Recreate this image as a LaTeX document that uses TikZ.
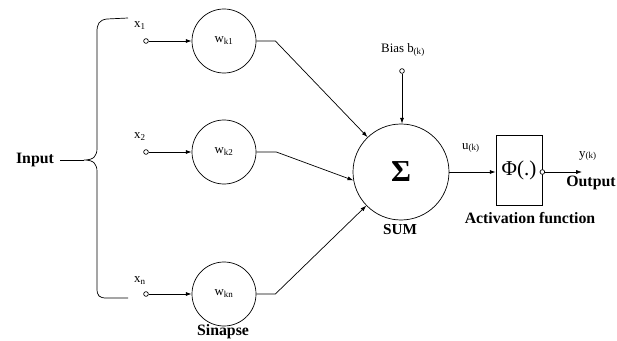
\documentclass[tikz,border=0pt]{standalone}
\usepackage{fontspec}
\setmainfont{Liberation Serif}[BoldFont={Liberation Serif Bold}]
\usetikzlibrary{arrows.meta}

\tikzset{
  weight/.style={draw, circle, minimum size=1.92cm, inner sep=0pt, font=\fontsize{11}{13}\selectfont},
  port/.style={draw, circle, minimum size=4pt, inner sep=0pt, fill=white},
  lbl/.style={font=\fontsize{11}{13}\selectfont, inner sep=1pt},
  caption/.style={font=\bfseries\fontsize{13.5}{16}\selectfont, inner sep=1pt},
}

\begin{document}
\begin{tikzpicture}[x=0.03cm, y=-0.03cm, line width=0.6pt, >={Latex[length=5pt,width=3.5pt]}]
            \useasboundingbox (0,0) rectangle (617,341);

            % Draw the inputs and the brace
            \node[caption] (input) at (35,160) {Input};
            \coordinate (tip) at (84,160);
            \draw[semithick] (128,18) -- (107,19) .. controls (99,20) and (97,24) .. (97,32) -- (97,148)
                .. controls (97,156) and (94,160) .. (tip) .. controls (94,160) and (97,164) .. (97,172)
                -- (97,288) .. controls (97,296) and (99,298) .. (107,298) -- (128,298);
            \draw[semithick] ([xshift=4pt]input.east) -- (tip);

            \node[port] (x1) at (146,41) {};
            \node[port] (x2) at (146,152) {};
            \node[port] (xn) at (146,294) {};
            \node[lbl] (lx1) at (140,26) {x\textsubscript{1}};
            \node[lbl] (lx2) at (140,137) {x\textsubscript{2}};
            \node[lbl] (lxn) at (140,281) {x\textsubscript{n}};

            % Draw the synaptic weights
            \node[weight] (w1) at (224,41) {w\textsubscript{k1}};
            \node[weight] (w2) at (224,152) {w\textsubscript{k2}};
            \node[weight] (wn) at (224,294) {w\textsubscript{kn}};
            \node[caption] (sinapse) at (223,332) {Sinapse};

            \draw[->] (x1) -- (w1);
            \draw[->] (x2) -- (w2);
            \draw[->] (xn) -- (wn);

            % Draw the summing junction
            \node[draw, circle, minimum size=2.88cm, inner sep=0pt, font=\bfseries\fontsize{26}{28}\selectfont] (sum) at (401,172) {Σ};
            \node[caption, font=\bfseries\fontsize{13}{15}\selectfont] (sumlbl) at (400,230) {SUM};

            \draw[->] (w1.east) -- ++(19,0) -- (sum);
            \draw[->] (w2.east) -- ++(20,0) -- (sum.190);
            \draw[->] (wn.east) -- ++(19,0) -- (sum);

            % Draw the bias
            \node[lbl] (biaslbl) at (403,50) {Bias b\textsubscript{(k)}};
            \node[port] (bias) at (402,71) {};
            \draw[->] (bias) -- (bias |- sum.north);

            % Draw the activation function
            \node[draw, minimum width=1.38cm, minimum height=2.1cm, inner sep=0pt, font=\fontsize{18}{20}\selectfont] (phi) at (519,170) {Φ(.)};
            \node[caption] (actlbl) at (530,218) {Activation function};
            \node[lbl] (ulbl) at (471,148) {u\textsubscript{(k)}};
            \draw[->] (sum.east) -- (sum.east -| phi.west);

            % Draw the output
            \node[port] (yport) at (phi.east |- sum.east) {};
            \coordinate (yend) at (582,172);
            \draw[->] (yport) -- (yend);
            \node[lbl] (ylbl) at (588,156) {y\textsubscript{(k)}};
            \node[caption] (outlbl) at (591,183) {Output};

        \end{tikzpicture}
\end{document}
